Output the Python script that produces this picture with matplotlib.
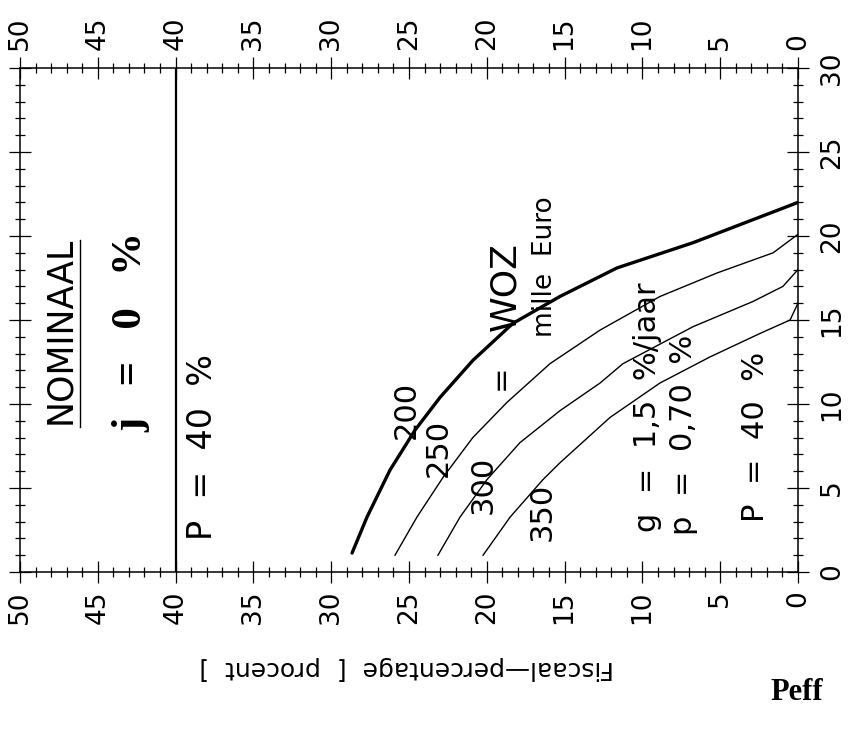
import matplotlib
matplotlib.use("Agg")
import matplotlib.pyplot as plt
import numpy as np

# horizontal value (Peff, 50 -> 0) and vertical value (0 -> 30)
h200 = [28.66, 27.70, 26.22, 24.61, 23.0, 20.89, 18.32, 15.3, 11.63, 6.75, 0.0]
v200 = [1.13, 3.27, 6.07, 8.45, 10.4, 12.6, 14.8, 16.4, 18.1, 19.6, 22.0]

h250 = [25.9, 24.49, 22.8, 20.9, 18.7, 15.94, 12.72, 8.87, 5.2, 1.6, 0.0]
v250 = [1.0, 3.27, 5.65, 8.0, 10.1, 12.4, 14.4, 16.4, 17.8, 19.0, 20.1]

h300 = [23.14, 21.72, 19.99, 17.87, 15.3, 12.72, 11.25, 6.75, 2.9, 0.97, 0.0]
v300 = [1.0, 3.27, 5.5, 7.7, 9.6, 11.25, 12.4, 14.6, 16.1, 17.0, 18.0]

h350 = [20.24, 18.5, 16.39, 15.3, 12.08, 8.87, 5.66, 2.44, 0.51, 0.0]
v350 = [1.0, 3.27, 5.5, 6.5, 9.2, 11.25, 12.8, 14.2, 15.0, 16.0]

p_line = 40
x_ticks = [0, 5, 10, 15, 20, 25, 30, 35, 40, 45, 50]
y_ticks = [0, 5, 10, 15, 20, 25, 30]

fig = plt.figure(figsize=(8.49, 7.32), dpi=100)
fig.patch.set_facecolor("white")
W, H = 849, 732
x0, x1, ytop, ybot = 20, 798, 68, 572
ax = fig.add_axes([x0 / W, 1 - ybot / H, (x1 - x0) / W, (ybot - ytop) / H])
ax.set_xlim(50, 0)
ax.set_ylim(0, 30)

ax.plot(h200, v200, color="black", lw=2.4, solid_capstyle="round")
ax.plot(h250, v250, color="black", lw=1.0)
ax.plot(h300, v300, color="black", lw=1.0)
ax.plot(h350, v350, color="black", lw=1.0)
ax.axvline(p_line, color="black", lw=1.6)

ax.set_xticks(x_ticks)
ax.set_yticks(y_ticks)
ax.set_xticks(np.arange(0, 51, 1), minor=True)
ax.set_yticks(np.arange(0, 31, 1), minor=True)
for s in ax.spines.values():
    s.set_linewidth(1.1)
ax.tick_params(which="major", direction="inout", length=16, width=0.9,
               top=True, bottom=True, left=True, right=True,
               labeltop=True, labelbottom=True, labelleft=False, labelright=True,
               labelsize=19)
ax.tick_params(which="minor", direction="inout", length=7, width=0.9,
               top=True, bottom=True, left=True, right=True)
ax.tick_params(axis="x", which="major", pad=5)
ax.tick_params(axis="y", which="major", pad=7)
for t in ax.xaxis.get_major_ticks():
    t.label1.set_rotation(90)
    t.label2.set_rotation(90)
for t in ax.yaxis.get_major_ticks():
    t.label1.set_rotation(90)
    t.label2.set_rotation(90)
    t.label2.set_verticalalignment("center")

def px(x, y, s, **kw):
    fig.text(x / W, 1 - y / H, s, ha="center", va="center", rotation=90, **kw)

px(60, 330, "NOMINAAL", fontsize=25)
fig.add_artist(plt.Line2D([80 / W, 80 / W], [1 - 240 / H, 1 - 427 / H], color="black", lw=1.0))
px(131, 332, "j   =   0   %", fontsize=31, family="Liberation Serif", fontweight="bold")
px(203, 447, "P  =  40  %", fontsize=24)
px(406, 410, "200", fontsize=22)
px(438, 448, "250", fontsize=22)
px(483, 485, "300", fontsize=22)
px(542, 512, "350", fontsize=22)
px(500, 377, "=", fontsize=22)
px(505, 287, "WOZ", fontsize=26)
px(545, 267, "mille  Euro", fontsize=19)
px(647, 407, "g  =  1,5  %/jaar", fontsize=22)
px(683, 435, "p  =  0,70  %", fontsize=22)
px(755, 437, "P  =  40  %", fontsize=22)

fig.text(407 / W, 1 - 668 / H, "Fiscaal\u2014percentage  [  procent  ]", ha="center", va="center",
         rotation=180, fontsize=18)
fig.text(797 / W, 1 - 692 / H, "Peff", ha="center", va="center", fontsize=22,
         family="Liberation Serif", fontweight="bold")

fig.savefig("out.png", dpi=100, facecolor="white")
